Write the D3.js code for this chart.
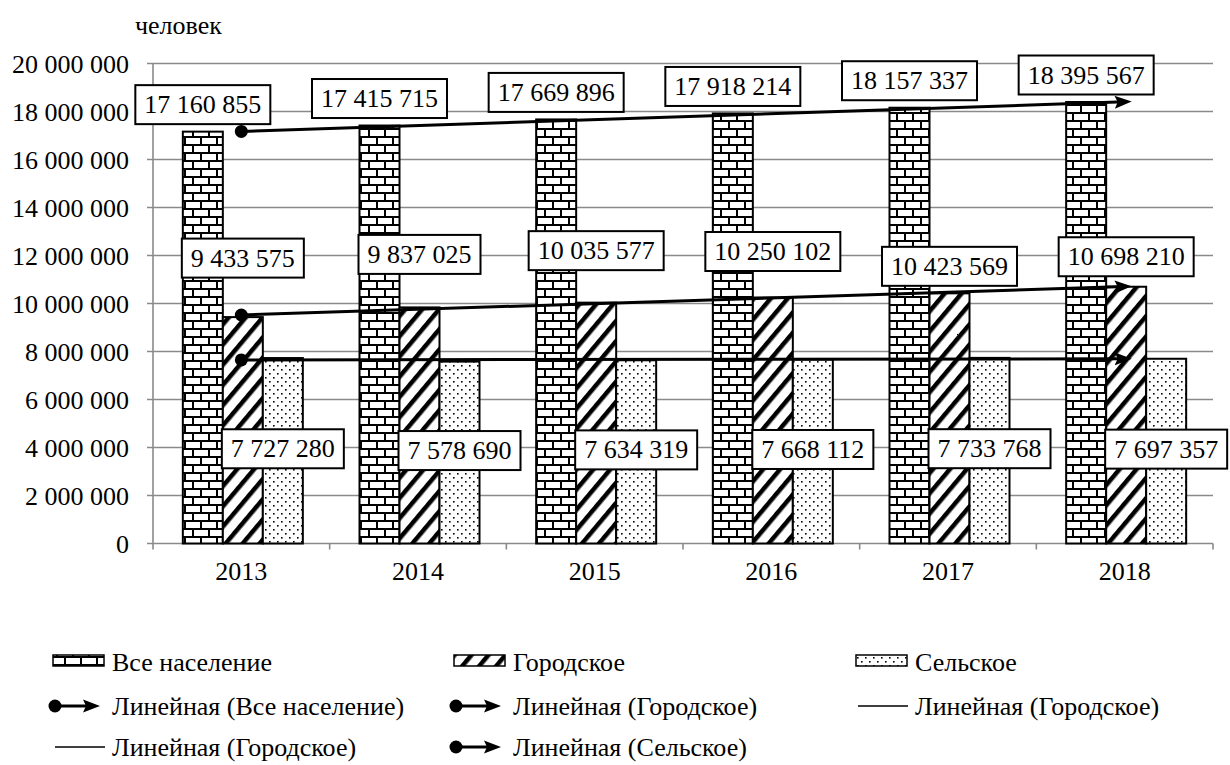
<!DOCTYPE html>
<html>
<head>
<meta charset="utf-8">
<script src="https://cdn.jsdelivr.net/npm/d3@7/dist/d3.min.js"></script>
<style>
    body { margin: 0; background: #fff; }
    svg { display: block; }
    svg text { font-family: 'Liberation Serif', 'Times New Roman', serif; fill: #000; }
</style>
</head>
<body>
<div class="chart"></div>
<script>
(function () {
    'use strict';

    // data
    const years = ['2013', '2014', '2015', '2016', '2017', '2018'];
    const allPopulation = [17160855, 17415715, 17669896, 17918214, 18157337, 18395567];
    const urbanPopulation = [9433575, 9837025, 10035577, 10250102, 10423569, 10698210];
    const ruralPopulation = [7727280, 7578690, 7634319, 7668112, 7733768, 7697357];
    const yTickValues = [0, 2000000, 4000000, 6000000, 8000000, 10000000, 12000000, 14000000, 16000000, 18000000, 20000000];
    const seriesNames = ['Все население', 'Городское', 'Сельское'];
    const unitLabel = 'человек';
    const legendLabels = [
        'Все население', 'Городское', 'Сельское',
        'Линейная (Все население)', 'Линейная (Городское)', 'Линейная (Городское)',
        'Линейная (Городское)', 'Линейная (Сельское)'
    ];

    // labels of the urban series were dragged by hand in the original, px from bar top
    const urbanLabelShift = [-59, -53, -52, -46, -27, -30];

    const W = 1230, H = 765;
    const plot = { left: 153, right: 1213, top: 63.5, bottom: 543.5 };
    const fontSize = 26;
    const serif = "'Liberation Serif', 'Times New Roman', serif";

    const svg = d3.select('.chart').append('svg')
        .attr('width', W)
        .attr('height', H);

    const defs = svg.append('defs');

    // brick pattern
    const brick = defs.append('pattern').attr('id', 'brick')
        .attr('patternUnits', 'userSpaceOnUse')
        .attr('width', 16).attr('height', 16);
    brick.append('rect').attr('width', 16).attr('height', 16).attr('fill', '#fff');
    brick.append('path')
        .attr('d', 'M0,1H16M0,9H16M1,1V9M9,9V17')
        .attr('stroke', '#000').attr('stroke-width', 2).attr('fill', 'none');

    // diagonal hatch
    const hatch = defs.append('pattern').attr('id', 'hatch')
        .attr('patternUnits', 'userSpaceOnUse')
        .attr('width', 13).attr('height', 13)
        .attr('patternTransform', 'rotate(40)');
    hatch.append('rect').attr('width', 13).attr('height', 13).attr('fill', '#fff');
    hatch.append('rect').attr('x', 0).attr('y', 0).attr('width', 4.5).attr('height', 13).attr('fill', '#000');

    // dots
    const dots = defs.append('pattern').attr('id', 'dots')
        .attr('patternUnits', 'userSpaceOnUse')
        .attr('width', 8).attr('height', 8);
    dots.append('rect').attr('width', 8).attr('height', 8).attr('fill', '#fff');
    dots.append('rect').attr('x', 1).attr('y', 1).attr('width', 1.6).attr('height', 1.6).attr('fill', '#000');
    dots.append('rect').attr('x', 5).attr('y', 5).attr('width', 1.6).attr('height', 1.6).attr('fill', '#000');

    const fills = ['url(#brick)', 'url(#hatch)', 'url(#dots)'];

    // line end markers
    defs.append('marker').attr('id', 'dot')
        .attr('markerUnits', 'userSpaceOnUse')
        .attr('viewBox', '-8 -8 16 16')
        .attr('markerWidth', 16).attr('markerHeight', 16)
        .attr('refX', 0).attr('refY', 0)
        .append('circle').attr('r', 6.5).attr('fill', '#000');

    defs.append('marker').attr('id', 'arrow')
        .attr('markerUnits', 'userSpaceOnUse')
        .attr('viewBox', '0 -8 18 16')
        .attr('markerWidth', 18).attr('markerHeight', 16)
        .attr('refX', 10).attr('refY', 0)
        .attr('orient', 'auto')
        .append('path').attr('d', 'M0,-6.5L17,0L0,6.5L3,0Z').attr('fill', '#000');

    const x0 = d3.scaleBand().domain(years).range([plot.left, plot.right]);
    const x1 = d3.scaleBand().domain(seriesNames).range([0, 120]);
    const y = d3.scaleLinear().domain([0, 20000000]).range([plot.bottom, plot.top]);

    const fmt = function (v) {
        return d3.format(',')(v).replace(/,/g, ' ');
    };

    const groupLeft = function (yr) {
        return x0(yr) + (x0.bandwidth() - 120) / 2 + 1.5;
    };
    const center = function (yr) {
        return x0(yr) + x0.bandwidth() / 2;
    };

    // gridlines
    svg.append('g').selectAll('line').data(yTickValues)
        .enter().append('line')
        .attr('x1', plot.left - 6).attr('x2', plot.right)
        .attr('y1', function (d) { return y(d); })
        .attr('y2', function (d) { return y(d); })
        .attr('stroke', '#8a8a8a').attr('stroke-width', 1.6);

    // y axis
    const yAxis = svg.append('g').attr('transform', 'translate(' + plot.left + ',0)')
        .call(d3.axisLeft(y).tickValues(yTickValues).tickSize(0).tickPadding(24).tickFormat(fmt));
    yAxis.select('.domain').remove();
    yAxis.attr('font-family', serif).attr('font-size', fontSize);
    yAxis.selectAll('text')
        .style('font-family', serif).style('font-size', fontSize + 'px')
        .attr('fill', '#000').attr('dy', null).attr('dominant-baseline', 'central');

    svg.append('line')
        .attr('x1', plot.left).attr('x2', plot.left)
        .attr('y1', plot.top).attr('y2', plot.bottom + 6)
        .attr('stroke', '#8a8a8a').attr('stroke-width', 1.6);

    // x axis
    const xAxis = svg.append('g').attr('transform', 'translate(0,' + plot.bottom + ')')
        .call(d3.axisBottom(x0).tickSize(0).tickPadding(0));
    xAxis.select('.domain').remove();
    xAxis.attr('font-family', serif).attr('font-size', fontSize);
    xAxis.selectAll('text')
        .style('font-family', serif).style('font-size', fontSize + 'px')
        .attr('fill', '#000').attr('y', 27.5).attr('dy', null).attr('dominant-baseline', 'central');

    const boundaries = years.map(function (yr) { return x0(yr) + x0.bandwidth(); });
    svg.append('g').selectAll('line').data(boundaries)
        .enter().append('line')
        .attr('x1', function (d) { return d; })
        .attr('x2', function (d) { return d; })
        .attr('y1', plot.bottom).attr('y2', plot.bottom + 6)
        .attr('stroke', '#8a8a8a').attr('stroke-width', 1.6);

    // bars
    const seriesValues = [allPopulation, urbanPopulation, ruralPopulation];
    const barData = [];
    years.forEach(function (yr, i) {
        seriesNames.forEach(function (s, j) {
            barData.push({ year: yr, i: i, s: s, j: j, v: seriesValues[j][i] });
        });
    });

    svg.append('g').selectAll('rect').data(barData)
        .enter().append('rect')
        .attr('x', function (d) { return groupLeft(d.year) + x1(d.s); })
        .attr('y', function (d) { return y(d.v); })
        .attr('width', x1.bandwidth())
        .attr('height', function (d) { return y(0) - y(d.v); })
        .attr('fill', function (d) { return fills[d.j]; })
        .attr('stroke', '#000').attr('stroke-width', 2);

    // linear trendlines
    const fit = function (vals) {
        const n = vals.length;
        const xs = d3.range(1, n + 1);
        const mx = d3.mean(xs), my = d3.mean(vals);
        let sxy = 0, sxx = 0;
        xs.forEach(function (xv, k) {
            sxy += (xv - mx) * (vals[k] - my);
            sxx += (xv - mx) * (xv - mx);
        });
        const b = sxy / sxx;
        const a = my - b * mx;
        return function (xv) { return a + b * xv; };
    };

    const trendG = svg.append('g');
    seriesValues.forEach(function (vals) {
        const f = fit(vals);
        trendG.append('line')
            .attr('x1', center(years[0]))
            .attr('y1', y(f(1)))
            .attr('x2', center(years[years.length - 1]))
            .attr('y2', y(f(years.length)))
            .attr('stroke', '#000').attr('stroke-width', 3)
            .attr('marker-start', 'url(#dot)')
            .attr('marker-end', 'url(#arrow)');
    });

    // data labels
    const labelG = svg.append('g');
    const addLabel = function (cx, cy, text) {
        const g = labelG.append('g');
        const t = g.append('text')
            .attr('x', cx).attr('y', cy)
            .attr('text-anchor', 'middle')
            .attr('dominant-baseline', 'central')
            .style('font-family', serif)
            .style('font-size', fontSize + 'px')
            .text(text);
        const w = t.node().getComputedTextLength() + 18;
        g.insert('rect', 'text')
            .attr('x', cx - w / 2).attr('y', cy - 19.5)
            .attr('width', w).attr('height', 39)
            .attr('fill', '#fff').attr('stroke', '#000').attr('stroke-width', 2);
    };

    barData.forEach(function (d) {
        const cx = groupLeft(d.year) + x1(d.s) + x1.bandwidth() / 2;
        let cy;
        if (d.j === 0) {
            cy = y(d.v) - 27;
        } else if (d.j === 1) {
            cy = y(d.v) + urbanLabelShift[d.i];
        } else {
            cy = (y(d.v) + y(0)) / 2 - 2;
        }
        addLabel(cx, cy, fmt(d.v));
    });

    // unit label
    svg.append('text')
        .attr('x', 135).attr('y', 25)
        .attr('dominant-baseline', 'central')
        .style('font-family', serif)
        .style('font-size', fontSize + 'px')
        .text(unitLabel);

    // legend
    const legend = svg.append('g');
    const cols = [112, 513, 915];
    const rows = [662, 706, 747];
    const legendKinds = ['brick', 'hatch', 'dots', 'trend', 'trend', 'line', 'line', 'trend'];

    legendLabels.forEach(function (lab, k) {
        const tx = cols[k % 3];
        const ty = rows[Math.floor(k / 3)];
        const kind = legendKinds[k];
        if (kind === 'brick' || kind === 'hatch' || kind === 'dots') {
            legend.append('rect')
                .attr('x', tx - 59).attr('y', ty - 7)
                .attr('width', 51).attr('height', 11)
                .attr('fill', fills[k]).attr('stroke', '#000').attr('stroke-width', 1.5);
        } else if (kind === 'trend') {
            legend.append('line')
                .attr('x1', tx - 57).attr('x2', tx - 19)
                .attr('y1', ty).attr('y2', ty)
                .attr('stroke', '#000').attr('stroke-width', 3)
                .attr('marker-start', 'url(#dot)')
                .attr('marker-end', 'url(#arrow)');
        } else {
            legend.append('line')
                .attr('x1', tx - 57).attr('x2', tx - 7)
                .attr('y1', ty).attr('y2', ty)
                .attr('stroke', '#000').attr('stroke-width', 1.5);
        }
        legend.append('text')
            .attr('x', tx).attr('y', ty)
            .attr('dominant-baseline', 'central')
            .style('font-family', serif)
            .style('font-size', fontSize + 'px')
            .text(lab);
    });
}());
</script>
</body>
</html>
